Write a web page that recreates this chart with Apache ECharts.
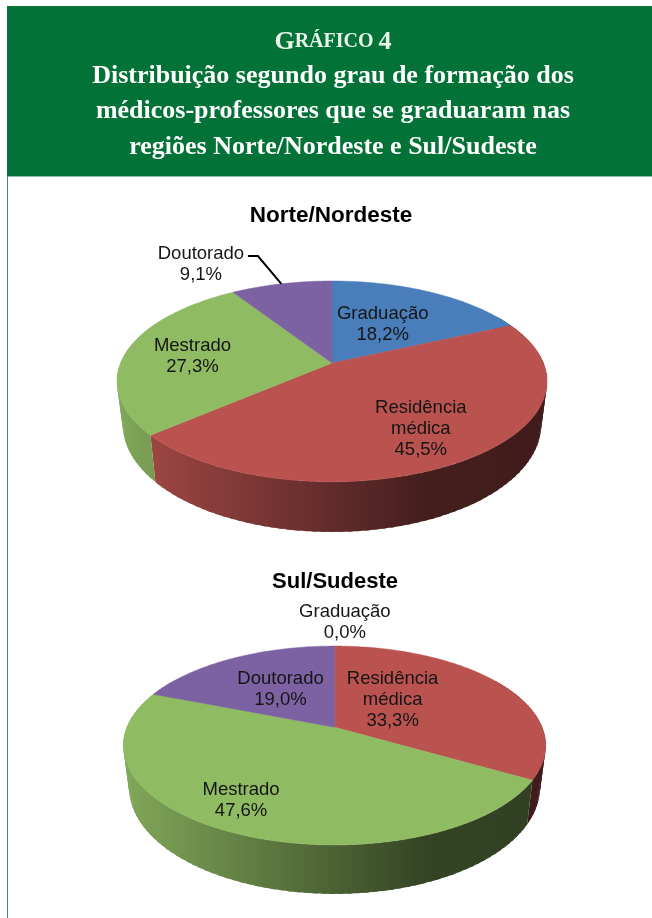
<!DOCTYPE html>
<html><head><meta charset="utf-8">
<style>html,body{margin:0;padding:0;background:#fff}#c{width:652px;height:918px}</style>
<script src="https://cdn.jsdelivr.net/npm/echarts@6/dist/echarts.min.js"></script>
</head><body><div id="c"></div>
<script>
// ---------- data ----------
const headerLines = [
  'Distribuição segundo grau de formação dos',
  'médicos-professores que se graduaram nas',
  'regiões Norte/Nordeste e Sul/Sudeste'
];
const northTitle = 'Norte/Nordeste';
const southTitle = 'Sul/Sudeste';
const northNames  = ['Graduação', 'Residência\nmédica', 'Mestrado', 'Doutorado'];
const northValues = [18.2, 45.5, 27.3, 9.1];
const southNames  = ['Graduação', 'Residência\nmédica', 'Mestrado', 'Doutorado'];
const southValues = [0.0, 33.3, 47.6, 19.0];

// ---------- styling / layout ----------
const sliceColors = ['#4A7EBB', '#BA5350', '#8FBB63', '#7D62A3'];
const wallShade = [[0, .9], [.4, .6], [.72, .36], [1, .34]];
const northPie = {
  top: {cx: 332, cy: 363, a: 211.4, b: 97, k: .183},
  bottom: {cx: 332, cy: 404.8, a: 205.7, b: 103.9, k: .183},
  // label centre as a fraction of the pie radii from the hub
  labels: [[.24, -.42], [.42, .66], [-.66, -.09], [-.62, -1.04]],
  leader: 3
};
const southPie = {
  top: {cx: 334.5, cy: 727.3, a: 207.6, b: 96.1, k: .183},
  bottom: {cx: 334.5, cy: 768, a: 202, b: 102.9, k: .183},
  labels: [[.05, -1.11], [.28, -.31], [-.45, .74], [-.26, -.42]],
  leader: -1
};
const fmt = v => v.toFixed(1).replace('.', ',') + '%';

function project(d, deg) {
  const t = deg * Math.PI / 180, u = Math.sin(t), v = -Math.cos(t), w = 1 - d.k * v;
  return [d.cx + d.a * u / w, d.cy + d.b * v / w];
}
function shade(hex, f) {
  const n = parseInt(hex.slice(1), 16);
  return 'rgb(' + [(n >> 16) & 255, (n >> 8) & 255, n & 255].map(c => Math.round(c * f)).join(',') + ')';
}
function spans(values) {
  const tot = values.reduce((s, v) => s + v, 0);
  let c = 0;
  return values.map(v => { const s = c / tot * 360; c += v; return [s, c / tot * 360]; });
}

function pieSeries(pie, names, values) {
  const sp = spans(values);
  const data = values.map((v, i) => ({name: names[i], value: v}));
  const wall = {
    type: 'custom', coordinateSystem: 'none', z: 1, silent: true, data,
    renderItem(params) {
      const i = params.dataIndex, [s, e] = sp[i], children = [];
      if (e - s <= 0) return {type: 'group', children};
      const x0 = pie.top.cx - pie.top.a * 1.02, x1 = pie.top.cx + pie.top.a * 1.02;
      const fill = new echarts.graphic.LinearGradient(x0, 0, x1, 0,
        wallShade.map(([o, f]) => ({offset: o, color: shade(sliceColors[i], f)})), true);
      for (let t = s; t < e; t += 2) {
        if (-Math.cos(t * Math.PI / 180) < -.5 && -Math.cos(Math.min(t + 3, e) * Math.PI / 180) < -.5) continue;
        const n = Math.min(t + 3, e);
        children.push({type: 'polygon', silent: true,
          shape: {points: [project(pie.top, t), project(pie.top, n), project(pie.bottom, n), project(pie.bottom, t)]},
          style: {fill}});
      }
      return {type: 'group', children};
    }
  };
  const top = {
    type: 'custom', coordinateSystem: 'none', z: 2, silent: true, data,
    renderItem(params) {
      const i = params.dataIndex, [s, e] = sp[i];
      if (e - s <= 0) return {type: 'group', children: []};
      const pts = [[pie.top.cx, pie.top.cy]];
      for (let t = s; t < e; t += 1) pts.push(project(pie.top, t));
      pts.push(project(pie.top, e));
      return {type: 'polygon', silent: true, shape: {points: pts},
        style: {fill: sliceColors[i], stroke: sliceColors[i], lineWidth: .5}};
    }
  };
  const labels = {
    type: 'custom', coordinateSystem: 'none', z: 3, silent: true, data,
    renderItem(params) {
      const i = params.dataIndex, [fx, fy] = pie.labels[i];
      const x = pie.top.cx + fx * pie.top.a, y = pie.top.cy + fy * pie.top.b;
      const children = [{type: 'text', silent: true, style: {
        x, y: y + 2, text: names[i] + '\n' + fmt(values[i]), align: 'center', verticalAlign: 'middle',
        font: '18.5px "Liberation Sans", Arial, sans-serif', lineHeight: 21, fill: '#151515'
      }}];
      if (pie.leader === i) {
        const mid = project(pie.top, (sp[i][0] + sp[i][1]) / 2);
        children.push({type: 'polyline', silent: true,
          shape: {points: [[x + 47, y - 6], [x + 57, y - 6], mid]},
          style: {stroke: '#000', lineWidth: 2, fill: null}});
      }
      return {type: 'group', children};
    }
  };
  return [wall, top, labels];
}

const chart = echarts.init(document.getElementById('c'), null, {renderer: 'canvas'});
const serif = '"Liberation Serif", "DejaVu Serif", serif';
const sans = '"Liberation Sans", Arial, sans-serif';
const headerTitle = (text, top) => ({
  text, left: 328, top, textAlign: 'center',
  textStyle: {color: '#fff', fontFamily: serif, fontWeight: 'bold', fontSize: 26}
});
chart.setOption({
  animation: false,
  backgroundColor: '#fff',
  graphic: [
    {type: 'rect', z: 0, silent: true, shape: {x: 7, y: 6, width: 645, height: 170}, style: {fill: '#037237'}},
    {type: 'rect', z: 0, silent: true, shape: {x: 7, y: 176, width: 645, height: 1}, style: {fill: '#8fc0a5'}},
    {type: 'rect', z: 0, silent: true, shape: {x: 7, y: 176, width: 1, height: 742}, style: {fill: '#3f8f66'}}
  ],
  title: [
    {
      text: '{a|G}{b|RÁFICO} {a|4}', left: 328, top: 24, textAlign: 'center',
      textStyle: {rich: {
        a: {color: '#e8f3ea', fontFamily: serif, fontWeight: 'bold', fontSize: 26},
        b: {color: '#e8f3ea', fontFamily: serif, fontWeight: 'bold', fontSize: 20}
      }}
    },
    headerTitle(headerLines[0], 58),
    headerTitle(headerLines[1], 93),
    headerTitle(headerLines[2], 129),
    {text: northTitle, left: 326, top: 199, textAlign: 'center',
      textStyle: {color: '#000', fontFamily: sans, fontWeight: 'bold', fontSize: 22.5}},
    {text: southTitle, left: 330, top: 566, textAlign: 'center',
      textStyle: {color: '#000', fontFamily: sans, fontWeight: 'bold', fontSize: 22}}
  ],
  series: [...pieSeries(northPie, northNames, northValues), ...pieSeries(southPie, southNames, southValues)]
});
</script></body></html>
